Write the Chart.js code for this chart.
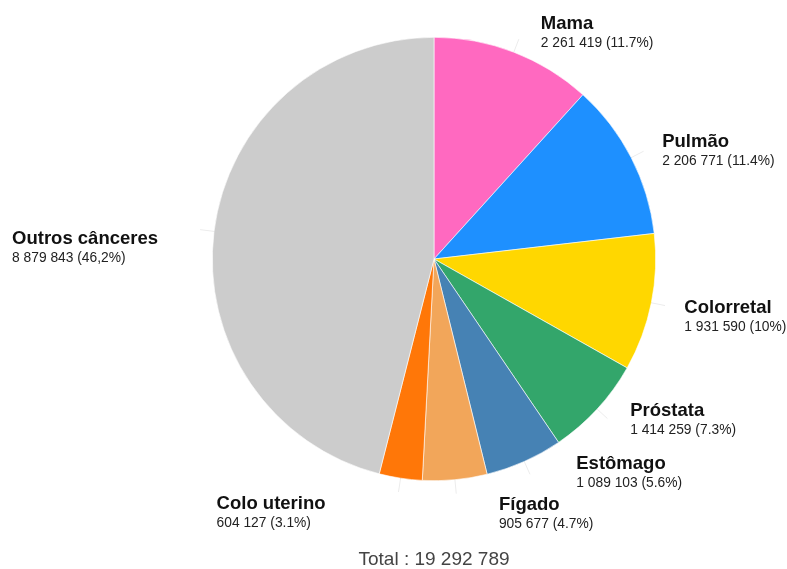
<!DOCTYPE html>
<html lang="pt">
<head>
<meta charset="utf-8">
<title>Incidência de câncer</title>
<script src="https://cdn.jsdelivr.net/npm/chart.js@4"></script>
<style>
    html, body { margin: 0; padding: 0; background: #fff; }
    #caja { width: 787px; height: 569px; position: relative; }
</style>
</head>
<body>
<div id="caja"><canvas id="grafica"></canvas></div>
<script>
// ─────────────────────────────────────────────────────────────────────
// DADOS
// ─────────────────────────────────────────────────────────────────────
const categorias = ['Mama', 'Pulmão', 'Colorretal', 'Próstata', 'Estômago', 'Fígado', 'Colo uterino', 'Outros cânceres'];
const casos = [2261419, 2206771, 1931590, 1414259, 1089103, 905677, 604127, 8879843];
const rotulosValor = ['2 261 419 (11.7%)', '2 206 771 (11.4%)', '1 931 590 (10%)', '1 414 259 (7.3%)',
    '1 089 103 (5.6%)', '905 677 (4.7%)', '604 127 (3.1%)', '8 879 843 (46,2%)'];
const textoTotal = 'Total : 19 292 789';

// cores das fatias
const cores = ['#ff69c0', '#1e90ff', '#ffd700', '#33a66b', '#4682b4', '#f2a65a', '#ff7708', '#cccccc'];

// deslocamento de cada rótulo em relação ao ponto médio do arco (px)
const desvioRotulos = [[27, -23], [31, -11], [33, 10], [33, 7], [52, 8], [44, 30], [-184, 31], [-202, 13]];

// ─────────────────────────────────────────────────────────────────────
// PLUGIN: RÓTULOS COM LINHA GUIA + TOTAL
// ─────────────────────────────────────────────────────────────────────
const rotulosPlugin = {
    id: 'rotulos',
    afterDatasetsDraw: function(chart) {
        const ctx = chart.ctx;
        const meta = chart.getDatasetMeta(0);
        ctx.save();
        meta.data.forEach(function(arc, i) {
            const p = arc.getProps(['x', 'y', 'startAngle', 'endAngle', 'outerRadius'], true);
            const meio = (p.startAngle + p.endAngle) / 2;
            const ax = p.x + Math.cos(meio) * p.outerRadius;
            const ay = p.y + Math.sin(meio) * p.outerRadius;
            const tx = ax + desvioRotulos[i][0];
            const ty = ay + desvioRotulos[i][1];

            // linha guia (bem clara)
            const bx = p.x + Math.cos(meio) * (p.outerRadius + 14);
            const by = p.y + Math.sin(meio) * (p.outerRadius + 14);
            ctx.strokeStyle = 'rgba(0,0,0,0.08)';
            ctx.lineWidth = 1;
            ctx.beginPath();
            ctx.moveTo(ax, ay);
            ctx.lineTo(bx, by);
            ctx.stroke();

            ctx.textAlign = 'left';
            ctx.textBaseline = 'alphabetic';
            ctx.fillStyle = '#111';
            ctx.font = 'bold 18.5px "Liberation Sans", Arial, sans-serif';
            ctx.fillText(categorias[i], tx, ty);
            ctx.fillStyle = '#222';
            ctx.font = '13.8px "Liberation Sans", Arial, sans-serif';
            ctx.fillText(rotulosValor[i], tx, ty + 18);
        });

        // total no rodapé
        const cx = meta.data[0].x;
        ctx.textAlign = 'center';
        ctx.fillStyle = '#444';
        ctx.font = '19px "Liberation Sans", Arial, sans-serif';
        ctx.fillText(textoTotal, cx, chart.height - 4);
        ctx.restore();
    }
};

// ─────────────────────────────────────────────────────────────────────
// GRÁFICO
// ─────────────────────────────────────────────────────────────────────
new Chart(document.getElementById('grafica'), {
    type: 'pie',
    data: {
        labels: categorias,
        datasets: [{
            data: casos,
            backgroundColor: cores,
            borderColor: '#ffffff',
            borderWidth: 0.6
        }]
    },
    options: {
        responsive: true,
        maintainAspectRatio: false,
        animation: false,
        layout: {
            padding: { top: 35, bottom: 86, left: 212, right: 131 }
        },
        plugins: {
            legend: { display: false },
            tooltip: { enabled: false }
        }
    },
    plugins: [rotulosPlugin]
});
</script>
</body>
</html>
